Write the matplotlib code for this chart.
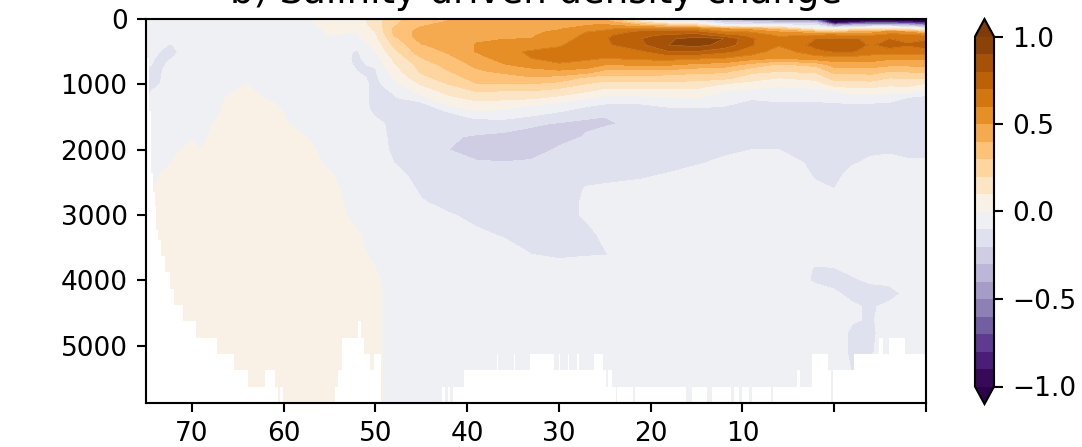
import numpy as np
from matplotlib import pyplot as plt

depth = [0, 50, 100, 150, 200, 250, 300, 400, 500, 600, 700, 800, 900, 1000, 1100, 1200, 1300, 1400, 1500,
         1600, 1800, 2000, 2200, 2400, 2600, 2800, 3000, 3300, 3600, 3800, 4000, 4200, 4400, 4600, 4800, 5100,
         5500, 5875]
lat = [75, 73.5, 72.5, 70, 69, 67.5, 66, 64, 62, 58, 55, 52, 50, 48, 45, 42, 39, 36, 33, 30, 27, 25, 21, 18, 15, 12,
       9, 6, 2, 0, -2, -4, -6, -8, -10]


def col(vals, fill=-.05):
    # the rest of the column down to the bottom has one value
    return vals + [fill] * (len(depth) - len(vals))


# one list per latitude, top to bottom
field_cols = [
    col([-.05, -.05, -.05, -.05, -.05, -.05, -.05, -.05, -.05, -.05, -.08, -.11, -.12, -.12, -.12, -.11, -.1, -.08]),
    col([-.05, -.05, -.05, -.05, -.05, -.05, -.05, -.06, -.1, -.13, -.13, -.12, -.11, -.1, -.07, -.05, -.05, -.05,
         -.05, -.05, -.05, -.05, -.05, 0, .04], .05),
    col([-.05, -.05, -.05, -.05, -.05, -.05, -.05, -.11, -.13, -.11, -.08, -.05, -.05, -.05, -.05, -.05, -.05, -.05,
         -.05, -.05, -.05, -.03, -.005, .03], .05),
    col([-.05, -.05, -.05, -.05, -.05, -.05, -.05, -.05, -.05, -.05, -.05, -.05, -.05, -.05, -.05, -.05, -.05, -.05,
         -.05, -.04, -.01, .03], .05),
    col([-.11, -.05, -.05, -.05, -.05, -.05, -.05, -.05, -.05, -.05, -.05, -.05, -.05, -.05, -.05, -.05, -.05, -.05,
         -.05, -.05, -.04, 0, .04], .05),
    col([-.05, -.05, -.05, -.05, -.05, -.05, -.05, -.05, -.05, -.05, -.05, -.05, -.05, -.05, -.05, -.05, -.05, -.04,
         -.02, .01, .04], .05),
    col([-.05, -.05, -.05, -.05, -.05, -.05, -.05, -.05, -.05, -.05, -.05, -.05, -.05, -.04, -.02, .01, .04], .05),
    col([-.05, -.05, -.05, -.05, -.05, -.05, -.05, -.05, -.05, -.05, -.05, -.05, -.04, 0, .03], .05),
    col([-.05, -.05, -.05, -.05, -.05, -.05, -.05, -.05, -.05, -.05, -.05, -.05, -.05, -.05, -.04, -.01, .02, .04], .05),
    col([-.02, -.03, -.04, -.05, -.05, -.05, -.05, -.05, -.05, -.05, -.05, -.05, -.05, -.05, -.05, -.05, -.05, -.05,
         -.04, -.03, .01, .04], .05),
    col([.04, .04, .03, .02, .01, 0, -.02, -.05, -.05, -.05, -.05, -.05, -.05, -.05, -.05, -.05, -.05, -.05, -.05,
         -.05, -.05, -.04, -.02, .01, .03], .05),
    col([.06, .04, .03, .02, 0, -.01, -.03, -.07, -.11, -.115, -.11, -.1, -.08, -.05, -.05, -.05, -.05, -.05, -.05,
         -.05, -.05, -.05, -.05, -.05, -.05, -.05, -.03, .01, .03], .05),
    col([.15, .15, .14, .12, .1, .085, .07, .03, 0, -.05, -.09, -.11, -.12, -.13, -.13, -.13, -.13, -.12, -.1, -.07,
         -.05, -.05, -.05, -.05, -.05, -.05, -.05, -.05, -.03, 0, .02], .03),
    col([.27, .28, .29, .31, .32, .3, .265, .22, .17, .12, .085, .05, .01, -.04, -.09, -.11, -.13, -.13, -.13, -.13,
         -.13, -.12, -.1, -.08, -.06]),
    col([.36, .37, .39, .42, .44, .45, .44, .39, .36, .295, .24, .215, .17, .105, .04, -.02, -.13, -.14, -.145, -.15,
         -.15, -.14, -.13, -.12, -.11, -.095, -.07]),
    col([.39, .41, .44, .46, .47, .47, .47, .44, .41, .38, .34, .295, .25, .2, .14, .08, .02, -.09, -.13, -.16,
         -.19, -.2, -.16, -.14, -.13, -.12, -.095, -.075]),
    col([.44, .45, .46, .47, .48, .49, .49, .505, .505, .45, .42, .385, .34, .29, .205, .13, .07, .005, -.085, -.14,
         -.21, -.24, -.19, -.16, -.14, -.13, -.115, -.09, -.065]),
    col([.45, .46, .47, .475, .48, .49, .495, .54, .58, .55, .49, .42, .36, .29, .2, .13, .05, -.02, -.08, -.14,
         -.23, -.26, -.195, -.17, -.15, -.14, -.13, -.105, -.075]),
    col([.46, .47, .47, .48, .48, .49, .5, .56, .61, .6, .54, .46, .39, .29, .2, .12, .02, -.05, -.11, -.18,
         -.25, -.26, -.18, -.16, -.145, -.14, -.135, -.12, -.1, -.065]),
    col([.47, .48, .48, .49, .52, .54, .56, .59, .63, .63, .59, .48, .36, .26, .16, .08, -.02, -.09, -.14, -.21,
         -.25, -.18, -.16, -.15, -.14, -.13, -.13, -.125, -.11, -.08]),
    col([.42, .47, .5, .55, .6, .62, .63, .65, .65, .62, .56, .45, .28, .19, .11, .02, -.08, -.13, -.19, -.22,
         -.19, -.16, -.14, -.12, -.095, -.09, -.09, -.12, -.105, -.07]),
    col([.38, .47, .52, .58, .63, .68, .69, .68, .66, .6, .5, .37, .25, .15, .07, -.02, -.1, -.14, -.2, -.21,
         -.17, -.15, -.13, -.115, -.09, -.06, -.05, -.085, -.105]),
    col([.02, .2, .42, .65, .74, .78, .8, .78, .69, .63, .51, .37, .26, .16, .07, -.02, -.1, -.13, -.16, -.18,
         -.16, -.14, -.12, -.105, -.085, -.06]),
    col([-.1, 0, .35, .62, .75, .82, .89, .9, .8, .64, .51, .36, .25, .16, .07, -.01, -.08, -.12, -.14, -.16,
         -.15, -.13, -.115, -.095, -.07]),
    col([-.2, -.02, .25, .6, .76, .85, .93, .93, .8, .62, .47, .33, .24, .15, .07, .01, -.07, -.12, -.14, -.15,
         -.14, -.12, -.105, -.08, -.06]),
    col([-.4, -.2, -.02, .5, .63, .75, .9, .87, .73, .6, .45, .32, .23, .09, 0, -.04, -.09, -.12, -.13, -.14,
         -.13, -.11, -.09, -.07]),
    col([-.4, -.25, -.02, .45, .6, .68, .71, .71, .66, .54, .36, .23, .14, .06, -.02, -.09, -.12, -.13, -.13, -.13,
         -.12, -.1, -.08, -.06]),
    col([-.45, -.3, -.03, .35, .5, .58, .63, .61, .54, .5, .28, .2, .1, .01, -.02, -.08, -.11, -.12, -.13, -.13,
         -.12, -.1, -.08, -.06]),
    col([-.6, -.3, -.1, .05, .4, .62, .7, .73, .68, .55, .33, .22, .13, .05, -.03, -.08, -.11, -.12, -.13, -.13,
         -.13, -.12, -.11, -.105, -.09, -.05, -.05, -.05, -.05, -.105, -.11, -.07]),
    col([-1.2, -1.1, -.4, 0, .3, .64, .71, .79, .71, .56, .44, .33, .24, .14, -.01, -.07, -.11, -.12, -.13, -.13,
         -.13, -.13, -.12, -.115, -.1, -.07, -.05, -.05, -.05, -.1, -.12, -.09, -.07]),
    col([-1.3, -.9, -.3, .1, .45, .58, .72, .74, .71, .56, .45, .33, .24, .15, .05, -.04, -.1, -.12, -.12, -.13,
         -.13, -.12, -.105, -.08, -.06, -.05, -.05, -.05, -.05, -.08, -.11, -.12, -.09, -.09, -.12, -.12, -.1]),
    col([-1.3, -.8, -.25, .1, .45, .6, .66, .69, .65, .55, .45, .34, .25, .15, .05, -.03, -.11, -.12, -.13, -.13,
         -.125, -.11, -.09, -.07, -.05, -.05, -.05, -.05, -.05, -.06, -.09, -.13, -.11, -.11, -.12, -.11]),
    col([-1.3, -.8, -.25, .15, .55, .64, .7, .73, .67, .52, .42, .3, .2, .12, .03, -.07, -.11, -.12, -.125, -.125,
         -.12, -.105, -.09, -.07, -.05, -.05, -.05, -.05, -.05, -.05, -.08, -.13, -.08, -.06]),
    col([-1.3, -.85, -.3, .1, .5, .66, .68, .71, .64, .53, .42, .31, .21, .13, .04, -.1, -.12, -.12, -.12, -.12,
         -.12, -.11, -.095, -.07, -.05, -.05, -.05, -.05, -.05, -.05, -.05, -.08]),
    col([-1.3, -.9, -.45, -.05, .35, .6, .69, .74, .67, .52, .43, .32, .21, .08, -.05, -.12, -.12, -.12, -.12, -.12,
         -.12, -.11, -.095, -.07]),
]

# sea floor: each depth holds from that latitude to the next one
floor_lat = [75, 74.7, 74.5, 74.2, 74, 73.9, 73.7, 73.4, 72.9, 72.4, 71.9, 71, 69.5, 67.3, 65.4, 63.9, 62, 60.9,
             60.6, 60.4, 60.1, 54.4, 54.1, 53.6, 51.9, 51.6, 51.2, 50.6, 50.1, 49.4, 42.7, 42.4, 42.1, 41.9, 41.5,
             40.3, 36.8, 36.65, 34.9, 34.75, 33.2, 30.5, 30, 29.85, 29, 28.85, 28, 27.85, 26.2, 25.2, 24.9, 24.7,
             24.2, 23.8, 23.65, 21.9, 21.75, 16.2, 15.5, 13.9, 13.3, 11.2, 10.9, 10.4, 10.1, 9.3, 9, 6.9, 6.7, 4.1,
             3.7, 2.4, 0.7, 0.3, 0.15, 0, -2.2, -4.4, -4.9, -5.3, -6, -7.7, -10]
floor_depth = [600, 1400, 2350, 2650, 2875, 3225, 3375, 3625, 3875, 4125, 4375, 4625, 4875, 5125, 5375, 5625, 5375,
               5625, 5875, 5625, 5875, 5625, 5375, 4875, 4625, 4875, 5125, 5375, 5125, 5875, 5625, 5875, 5625, 5875,
               5625, 5375, 5125, 5375, 5125, 5375, 5125, 5375, 5125, 5375, 5125, 5375, 5125, 5375, 5125, 5375, 5625,
               5375, 5625, 5875, 5625, 5875, 5625, 5875, 5625, 5875, 5625, 5875, 5625, 5875, 5625, 5875, 5625, 5875,
               5625, 5375, 5625, 5125, 5375, 5875, 5375, 5375, 5125, 5125, 4875, 5125, 4875, 5125, 5125]

levels = np.arange(-1, 1.01, 0.1)
seam_levels = [0.6, 0.7, 0.8, 0.9]
x_ticks = [70, 60, 50, 40, 30, 20, 10, 0, -10]
x_labels = ['70', '60', '50', '40', '30', '20', '10', '', '']
y_ticks = [0, 1000, 2000, 3000, 4000, 5000]
cbar_ticks = [-1, -0.5, 0, 0.5, 1]

W, H = 1082, 447
fig = plt.figure(figsize=(W / 190, H / 190), dpi=190)
ax = fig.add_axes([146 / W, 1 - 403 / H, 780 / W, 384 / H])

field = np.array(field_cols).T
cf = ax.contourf(lat, depth, field, levels=levels, cmap='PuOr_r', extend='both')
# the light hairlines between the dark bands
ax.contour(lat, depth, field, levels=seam_levels, colors='#d9963f', linewidths=0.15)
ax.fill_between(floor_lat, floor_depth, 5875, step='post', color='white', linewidth=0)

ax.set_xlim(75, -10)
ax.set_ylim(5875, 0)
ax.set_xticks(x_ticks)
ax.set_xticklabels(x_labels)
ax.set_yticks(y_ticks)
ax.set_title('b) Salinity-driven density change', fontsize=14)

cax = fig.add_axes([975 / W, 1 - 404 / H, 19 / W, 385 / H])
fig.colorbar(cf, cax=cax, ticks=cbar_ticks)

fig.savefig('out.png', dpi=190)
